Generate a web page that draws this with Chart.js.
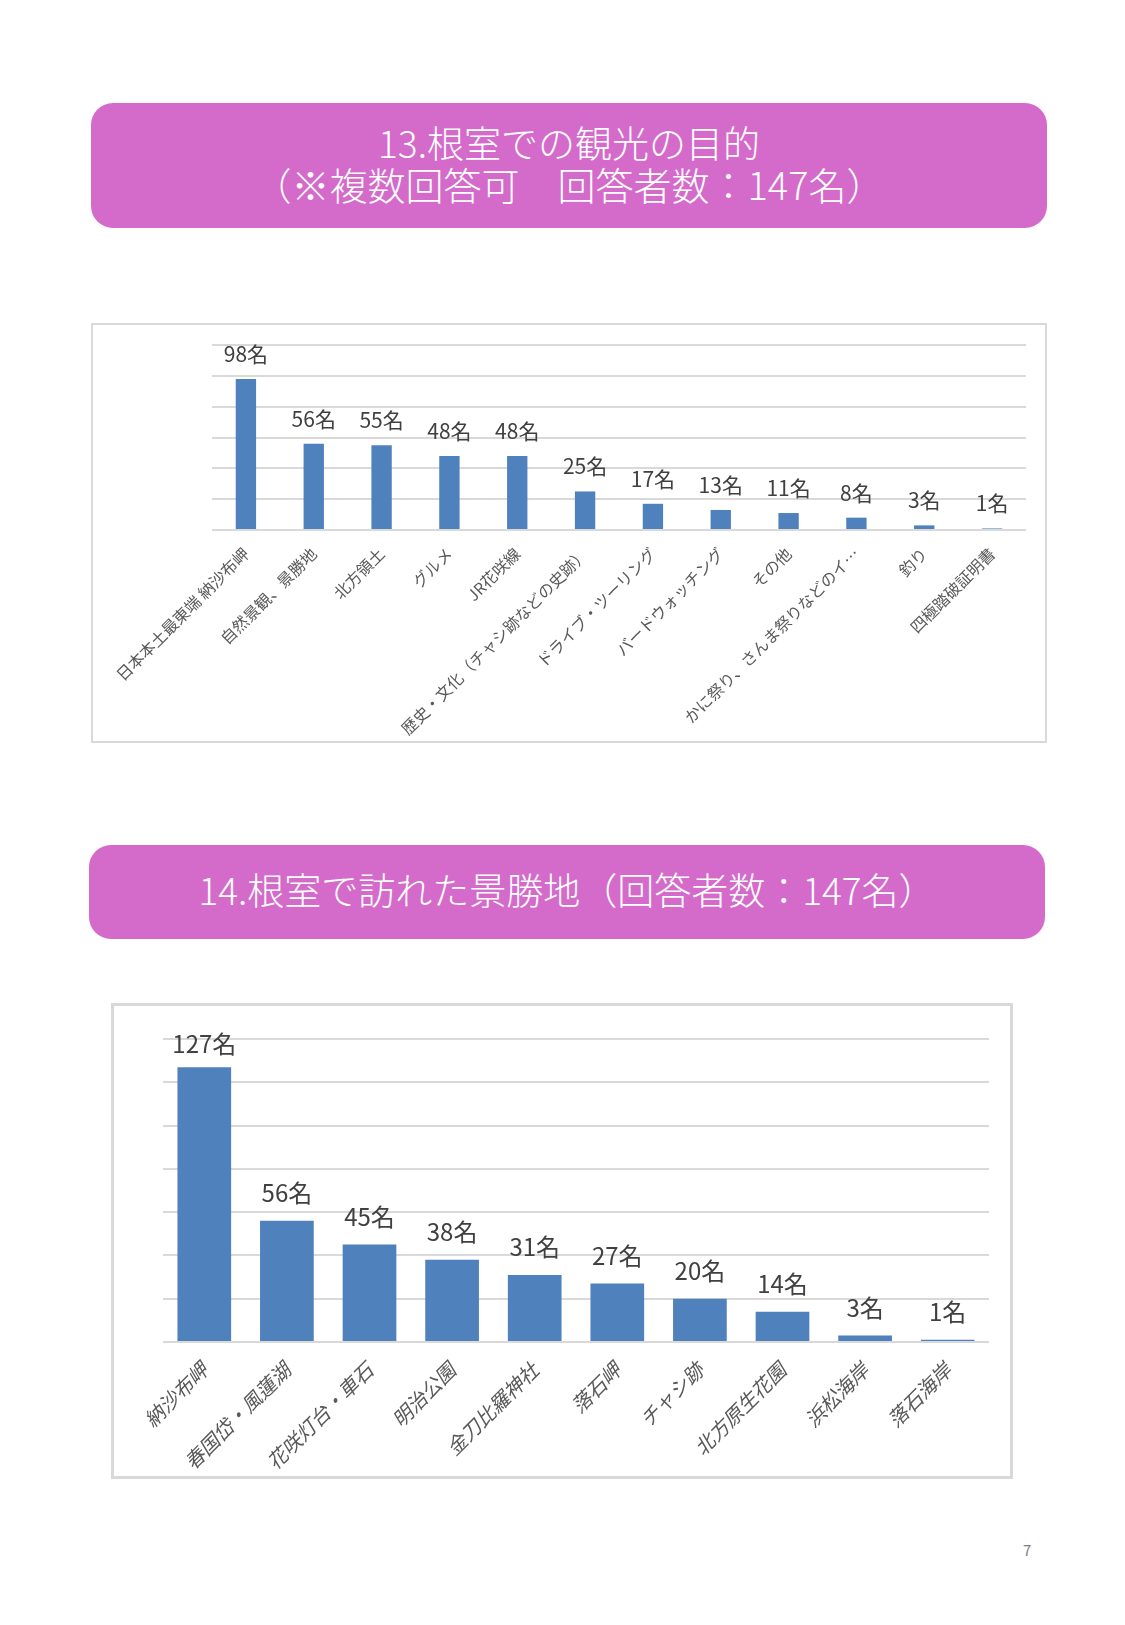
<!DOCTYPE html>
<html>
<head>
<meta charset="utf-8">
<script src="https://cdn.jsdelivr.net/npm/chart.js@4"></script>
<style>
  body { margin: 0; width: 1125px; height: 1625px; background: #fff; position: relative; font-family: "Noto Sans CJK JP", sans-serif; }
  .head { position: absolute; background: #d46bcb; color: #fff; border-radius: 22px; text-align: center; font-size: 37px; font-weight: 300; }
  .box { position: absolute; border: 2px solid #d9d9d9; box-sizing: border-box; background: #fff; }
  .box canvas { position: absolute; left: 0; top: 0; }
  #page { position: absolute; left: 1023px; top: 1539px; font-size: 15px; color: #7f7f7f; }
</style>
</head>
<body>
<div class="head" style="left:91px; top:103px; width:956px; height:125px; line-height:42px; padding-top:18px; box-sizing:border-box;">
  13.根室での観光の目的<br><span style="font-size:38px;">（※複数回答可　回答者数：147名）</span>
</div>
<div class="box" style="left:91px; top:323px; width:956px; height:420px;"><canvas id="c1"></canvas></div>

<div class="head" style="left:89px; top:845px; width:956px; height:94px; line-height:88px;">
  14.根室で訪れた景勝地（回答者数：147名）
</div>
<div class="box" style="left:111px; top:1003px; width:902px; height:476px; border-width:3px;"><canvas id="c2"></canvas></div>

<div id="page">7</div>

<script>
const purposeLabels = ['日本本土最東端 納沙布岬', '自然景観、景勝地', '北方領土', 'グルメ', 'JR花咲線',
    '歴史・文化（チャシ跡などの史跡）', 'ドライブ・ツーリング', 'バードウォッチング', 'その他',
    'かに祭り、さんま祭りなどのイ…', '釣り', '四極踏破証明書'];
const purposeValues = [98, 56, 55, 48, 48, 25, 17, 13, 11, 8, 3, 1];

const spotLabels = ['納沙布岬', '春国岱・風蓮湖', '花咲灯台・車石', '明治公園', '金刀比羅神社',
    '落石岬', 'チャシ跡', '北方原生花園', '浜松海岸', '落石海岸'];
const spotValues = [127, 56, 45, 38, 31, 27, 20, 14, 3, 1];

const FONT = '"Noto Sans CJK JP", sans-serif';

// value labels above each bar, placed from the bar elements
const barLabels = {
    id: 'barLabels',
    afterDatasetsDraw(chart, args, opts) {
        const ctx = chart.ctx;
        const meta = chart.getDatasetMeta(0);
        ctx.save();
        ctx.font = opts.size + 'px ' + FONT;
        ctx.fillStyle = '#404040';
        ctx.textAlign = 'center';
        ctx.textBaseline = 'middle';
        meta.data.forEach((bar, i) => {
            const y = Math.max(bar.y - opts.gap, chart.chartArea.top + opts.minTop);
            ctx.fillText(chart.data.datasets[0].data[i] + '名', bar.x, y);
        });
        ctx.restore();
    },
};

function makeChart(id, w, h, labels, values, cfg) {
    const canvas = document.getElementById(id);
    canvas.style.width = w + 'px';
    canvas.style.height = h + 'px';
    canvas.width = w;
    canvas.height = h;

    return new Chart(canvas, {
        type: 'bar',
        data: {
            labels: labels,
            datasets: [{
                data: values,
                backgroundColor: '#4f81bd',
                barPercentage: cfg.barPct,
                categoryPercentage: 1,
            }],
        },
        options: {
            responsive: false,
            animation: false,
            devicePixelRatio: 1,
            layout: { padding: cfg.padding },
            plugins: {
                legend: { display: false },
                tooltip: { enabled: false },
                barLabels: cfg.labels,
            },
            scales: {
                x: {
                    grid: { display: false },
                    border: { display: false },
                    ticks: {
                        autoSkip: false,
                        minRotation: 45,
                        maxRotation: 45,
                        color: '#595959',
                        padding: cfg.tickPad,
                        font: { family: FONT, size: cfg.tickSize, style: cfg.tickStyle },
                    },
                    afterFit: s => { s.height = cfg.xHeight; },
                },
                y: {
                    min: 0,
                    max: cfg.max,
                    ticks: { display: false, stepSize: 20 },
                    border: { display: false },
                    grid: { color: '#d9d9d9', lineWidth: 2, drawTicks: false },
                    afterFit: s => { s.width = 0; },
                },
            },
        },
        plugins: [barLabels],
    });
}

makeChart('c1', 952, 416, purposeLabels, purposeValues, {
    barPct: 0.3,
    padding: { left: 119, right: 19, top: 20, bottom: 0 },
    xHeight: 211,
    max: 120,
    tickPad: 6,
    tickSize: 16,
    tickStyle: 'normal',
    labels: { size: 21, gap: 25, minTop: 8 },
});

makeChart('c2', 896, 470, spotLabels, spotValues, {
    barPct: 0.65,
    padding: { left: 49, right: 21, top: 33, bottom: 0 },
    xHeight: 134,
    max: 140,
    tickPad: 8,
    tickSize: 20,
    tickStyle: 'italic',
    labels: { size: 24, gap: 28, minTop: 5 },
});
</script>
</body>
</html>
